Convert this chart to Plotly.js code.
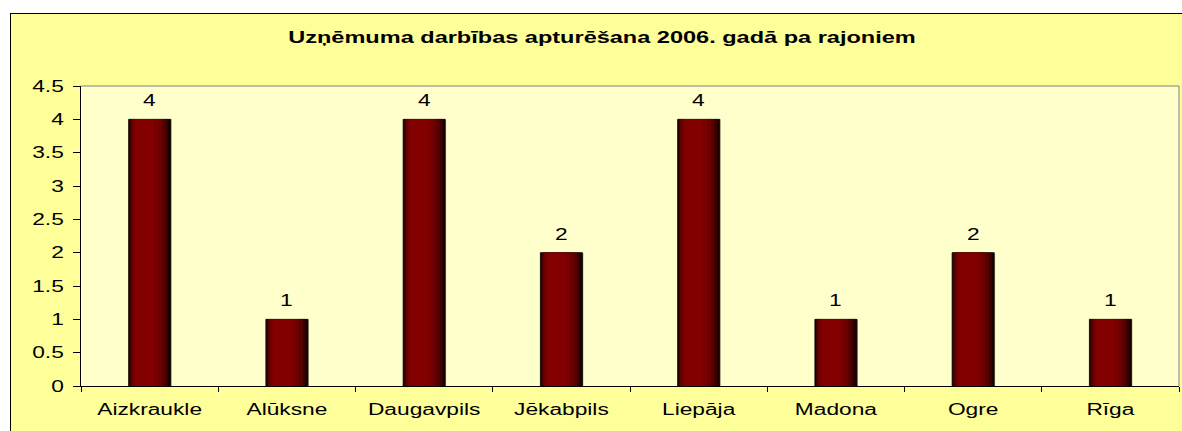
<!DOCTYPE html>
<html>
<head>
<meta charset="utf-8">
<script src="https://cdn.plot.ly/plotly-3.0.1.min.js"></script>
<style>
html,body{margin:0;padding:0;background:#ffffff;overflow:hidden;width:1182px;height:431px;}
#frame{position:absolute;left:10px;top:13px;width:1200px;height:440px;border:1px solid #000;background:#FFFF99;}
#chart{width:1200px;height:440px;}
</style>
</head>
<body>
<div id="frame"><div id="chart"></div></div>
<script>
// Data
const regions = ["Aizkraukle","Alūksne","Daugavpils","Jēkabpils","Liepāja","Madona","Ogre","Rīga"];
const counts = [4,1,4,2,4,1,2,1];
const yTicks = [0,0.5,1,1.5,2,2.5,3,3.5,4,4.5];
const chartTitle = "Uzņēmuma darbības apturēšana 2006. gadā pa rajoniem";

const FONT = "Liberation Sans, Arial, sans-serif";
const STRETCH = 1.42;       // reference text is horizontally stretched
const TITLE_STRETCH = 1.47;

// Cylinder shading layers (style only): [left, right, color] relative to category centre
const layers = [
  [-0.153, 0.153, "#1c0000"],
  [-0.146, 0.135, "#3a0000"],
  [-0.138, 0.115, "#560000"],
  [-0.128, 0.090, "#6c0000"],
  [-0.115, 0.060, "#7a0000"],
  [-0.100, 0.030, "#820000"]
];

const traces = [];
// shadow
traces.push({
  type:"bar", x:regions, y:counts, width:0.306, offset:-0.146,
  marker:{color:"#9a9a80", line:{width:0}}, hoverinfo:"skip", showlegend:false
});
layers.forEach((l,i)=>{
  traces.push({
    type:"bar", x:regions, y:counts, width:(l[1]-l[0]), offset:l[0],
    marker:{color:l[2], line:{width:i===0?0.8:0, color:"#000"}},
    hoverinfo:"skip", showlegend:false
  });
});

const annotations = regions.map((r,i)=>({
  x:r, y:counts[i], xref:"x", yref:"y", text:String(counts[i]),
  showarrow:false, yanchor:"bottom", yshift:8,
  font:{family:FONT, size:16, color:"#000"}
}));

const layout = {
  width:1200, height:440,
  margin:{l:70, r:32, t:72, b:68},
  paper_bgcolor:"#FFFF99",
  plot_bgcolor:"#FFFFCC",
  barmode:"overlay",
  showlegend:false,
  font:{family:FONT, size:16, color:"#000"},
  title:{text:chartTitle, x:591/1200, xref:"container", xanchor:"center", y:1-23/440, yanchor:"middle",
         font:{family:FONT, size:16, color:"#000", weight:"bold"}},
  xaxis:{type:"category", showgrid:false, zeroline:false, showline:true, linecolor:"#000", linewidth:1,
         ticks:"outside", tickson:"boundaries", ticklen:5, tickcolor:"#000",
         ticklabelstandoff:9, tickfont:{size:16}, fixedrange:true},
  yaxis:{range:[0,4.5], tickvals:yTicks, ticktext:yTicks.map(String), showgrid:false, zeroline:false,
         showline:true, linecolor:"#000", linewidth:1, ticks:"outside", ticklen:7, tickcolor:"#000",
         ticklabelstandoff:6, tickfont:{size:16}, fixedrange:true},
  shapes:[
    {type:"line", xref:"paper", yref:"paper", x0:0, x1:1, y0:1, y1:1, line:{color:"#808080", width:1}},
    {type:"line", xref:"paper", yref:"paper", x0:1, x1:1, y0:0, y1:1, line:{color:"#808080", width:1}}
  ],
  annotations:annotations
};

Plotly.newPlot("chart", traces, layout, {displayModeBar:false, staticPlot:true}).then(()=>{
  document.querySelectorAll("#chart svg text").forEach(t=>{
    const w = t.getComputedTextLength();
    if (w > 0) {
      const s = t.classList.contains("gtitle") ? TITLE_STRETCH : STRETCH;
      t.setAttribute("textLength", (w*s).toFixed(2));
      t.setAttribute("lengthAdjust", "spacingAndGlyphs");
    }
  });
});
</script>
</body>
</html>
